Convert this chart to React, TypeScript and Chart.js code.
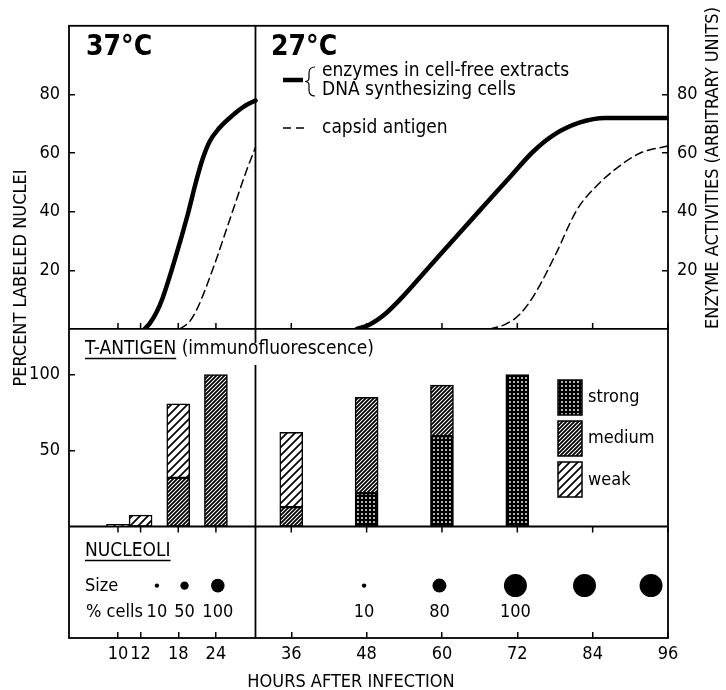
import React, { useEffect, useRef } from "react";
import { Chart, registerables } from "chart.js";

Chart.register(...registerables);

const FONT = "'DejaVu Sans Condensed', 'DejaVu Sans', sans-serif";

// ---- x axis (hours after infection) ----
const X_MIN = 0.6;
const X_MAX = 96;
const xTickPos = [8.4, 12, 18, 24, 36, 48, 60, 72, 84, 96];
const xTickLabels = ["10", "12", "18", "24", "36", "48", "60", "72", "84", "96"];
const dividerHour = 30.3;

// ---- top panel: percent labeled nuclei / enzyme activities ----
const topTicks = [20, 40, 60, 80];
const solid37Hours = [12.66, 13.5, 14.5, 15.5, 17.5, 19.5, 20.8, 21.8, 23, 24.5, 26.7, 28.5, 30.3];
const solid37Vals = [0, 2, 5.5, 10.5, 24, 39, 50, 57.5, 64, 68.5, 73, 76, 78];
const dashed37Hours = [18.24, 19.8, 21.1, 23.55, 26.2, 28.86, 30.3];
const dashed37Vals = [0, 2.5, 7.3, 20.7, 37.3, 54, 62];
const solid27Hours = [46.44, 48.5, 50.9, 53.3, 58.1, 62.05, 66.5, 70.8, 74.5, 78.0, 82.0, 86.0, 96];
const solid27Vals = [0, 1.5, 5, 10, 21.5, 31, 41.6, 51.8, 60.5, 66.5, 70.5, 72, 72];
const dashed27Hours = [67.6, 70.0, 72.4, 74.8, 78.0, 81.5, 84.7, 87.9, 91.5, 96];
const dashed27Vals = [0, 1.5, 5, 12, 25, 40.7, 49, 55, 60, 62.5];

// ---- middle panel: T-antigen ----
const midTicks = [50, 100];
const barHours = [8.4, 12, 18, 24, 36, 48, 60, 72];
const strongVals = [0, 0, 0, 0, 0, 22, 59.5, 100];
const mediumVals = [0, 0, 32, 100, 12.8, 63, 33.5, 0];
const weakVals = [1.5, 7.5, 48.7, 0, 49.2, 0, 0, 0];

// ---- bottom panel: nucleoli ----
const nucHours = [14.6, 19, 24.3, 47.6, 59.6, 71.7, 82.7, 93.3];
const nucRadius = [2.2, 4.2, 6.8, 2.2, 7, 11.5, 11.5, 11.5];
const nucPct = ["10", "50", "100", "10", "80", "100", "", ""];
const NUC_ROW = 0.47;

const pts = (hs: number[], vs: number[]) => hs.map((h, i) => ({ x: h, y: vs[i] }));
const barPts = (vs: number[]) =>
  barHours.map((h, i) => ({ x: h, y: vs[i] })).filter((p) => p.y > 0);

function makeHatch(s: number, lw: number, bg: string, fg: string) {
  const c = document.createElement("canvas");
  c.width = s;
  c.height = s;
  const g = c.getContext("2d")!;
  g.fillStyle = bg;
  g.fillRect(0, 0, s, s);
  g.strokeStyle = fg;
  g.lineWidth = lw;
  g.beginPath();
  g.moveTo(-1, s + 1);
  g.lineTo(s + 1, -1);
  g.moveTo(-2, 2);
  g.lineTo(2, -2);
  g.moveTo(s - 2, s + 2);
  g.lineTo(s + 2, s - 2);
  g.stroke();
  return g.createPattern(c, "repeat")!;
}

function makeDots() {
  const s = 4;
  const c = document.createElement("canvas");
  c.width = s;
  c.height = s;
  const g = c.getContext("2d")!;
  g.fillStyle = "#000";
  g.fillRect(0, 0, s, s);
  g.fillStyle = "#fff";
  g.beginPath();
  g.arc(2, 2, 0.95, 0, Math.PI * 2);
  g.fill();
  return g.createPattern(c, "repeat")!;
}

function yAxis(
  position: "left" | "right",
  stack: string,
  stackWeight: number,
  weight: number,
  max: number,
  ticks: number[] | null,
  width: number
) {
  const show = ticks !== null;
  return {
    type: "linear",
    position,
    stack,
    stackWeight,
    weight,
    min: 0,
    max,
    offset: false,
    border: { display: false },
    grid: {
      display: show,
      drawOnChartArea: false,
      drawTicks: true,
      tickLength: -6,
      color: "#000",
      lineWidth: 1.5,
    },
    afterBuildTicks: (s: any) => {
      if (ticks) s.ticks = ticks.map((v) => ({ value: v }));
    },
    ticks: {
      display: show,
      padding: 15,
      color: "#000",
      font: { family: FONT, size: 18 },
      callback: (v: any) => String(v),
    },
    afterFit: (s: any) => {
      s.width = width;
    },
  };
}

export default function App() {
  const ref = useRef<HTMLCanvasElement>(null);

  useEffect(() => {
    const canvas = ref.current!;
    const patStrong = makeDots();
    const patMedium = makeHatch(4, 1.8, "#fff", "#000");
    const patWeak = makeHatch(8, 1.7, "#fff", "#000");

    const decor = {
      id: "decor",
      afterDraw(chart: any) {
        const ctx: CanvasRenderingContext2D = chart.ctx;
        const ca = chart.chartArea;
        const xs = chart.scales.x;
        const y1 = chart.scales.yTop.bottom;
        const y2 = chart.scales.yMid.bottom;
        const line = (a: number, b: number, c: number, d: number) => {
          ctx.beginPath();
          ctx.moveTo(a, b);
          ctx.lineTo(c, d);
          ctx.stroke();
        };
        ctx.save();
        ctx.strokeStyle = "#000";
        ctx.fillStyle = "#000";
        ctx.lineWidth = 1.8;
        ctx.strokeRect(ca.left, ca.top, ca.right - ca.left, ca.bottom - ca.top);
        line(ca.left, y1, ca.right, y1);
        line(ca.left, y2, ca.right, y2);
        const xd = xs.getPixelForValue(dividerHour);
        line(xd, ca.top, xd, y1 + 14);
        line(xd, y1 + 36, xd, ca.bottom);
        ctx.lineWidth = 1.5;
        xTickPos.forEach((v) => {
          const px = xs.getPixelForValue(v);
          line(px, y1, px, y1 - 6);
          line(px, y2, px, y2 + 6);
        });

        const f = (size: number, bold = false) => `${bold ? "bold " : ""}${size}px ${FONT}`;
        ctx.textBaseline = "alphabetic";
        ctx.textAlign = "left";
        ctx.font = f(28, true);
        ctx.fillText("37°C", 86, 55);
        ctx.fillText("27°C", 271, 55);

        // top legend
        ctx.lineWidth = 4.5;
        line(283, 80, 303, 80);
        ctx.lineWidth = 1.5;
        ctx.setLineDash([8, 5]);
        line(283, 128, 305, 128);
        ctx.setLineDash([]);
        ctx.lineWidth = 1.2;
        ctx.beginPath();
        ctx.moveTo(315, 67);
        ctx.quadraticCurveTo(309, 67, 309, 73);
        ctx.lineTo(309, 78);
        ctx.quadraticCurveTo(309, 81.5, 305, 81.5);
        ctx.quadraticCurveTo(309, 81.5, 309, 85);
        ctx.lineTo(309, 90);
        ctx.quadraticCurveTo(309, 96, 315, 96);
        ctx.stroke();
        ctx.font = f(19);
        ctx.fillText("enzymes in cell-free extracts", 322, 76);
        ctx.fillText("DNA synthesizing cells", 322, 95);
        ctx.fillText("capsid antigen", 322, 133);

        // T-antigen title
        ctx.font = f(19);
        ctx.fillText("T-ANTIGEN (immunofluorescence)", 85, 354);
        const tw = ctx.measureText("T-ANTIGEN").width;
        ctx.lineWidth = 1.5;
        line(85, 358.5, 85 + tw, 358.5);

        // bar legend
        const boxes: [any, string, number, number][] = [
          [patStrong, "strong", 380, 402],
          [patMedium, "medium", 421, 443],
          [patWeak, "weak", 462, 485],
        ];
        ctx.font = f(18);
        boxes.forEach(([p, label, top, base]) => {
          ctx.fillStyle = p;
          ctx.fillRect(558, top, 24, 35);
          ctx.strokeRect(558, top, 24, 35);
          ctx.fillStyle = "#000";
          ctx.fillText(label, 588, base);
        });

        // nucleoli texts
        ctx.font = f(19);
        ctx.fillText("NUCLEOLI", 85, 556);
        const nw = ctx.measureText("NUCLEOLI").width;
        line(85, 560.5, 85 + nw, 560.5);
        ctx.font = f(18);
        ctx.fillText("Size", 85, 591);
        ctx.fillText("% cells", 86, 617);
        ctx.textAlign = "center";
        nucHours.forEach((h, i) => {
          if (nucPct[i]) ctx.fillText(nucPct[i], xs.getPixelForValue(h), 617);
        });

        // axis titles
        ctx.fillText("HOURS AFTER INFECTION", 351, 687);
        ctx.textBaseline = "middle";
        ctx.save();
        ctx.translate(21, 278);
        ctx.rotate(-Math.PI / 2);
        ctx.fillText("PERCENT LABELED NUCLEI", 0, 0);
        ctx.restore();
        ctx.save();
        ctx.translate(713, 168);
        ctx.rotate(-Math.PI / 2);
        ctx.fillText("ENZYME ACTIVITIES (ARBITRARY UNITS)", 0, 0);
        ctx.restore();
        ctx.restore();
      },
    };

    const lineDs = (hs: number[], vs: number[], dashed: boolean) => ({
      type: "line",
      data: pts(hs, vs),
      xAxisID: "x",
      yAxisID: "yTop",
      borderColor: "#000",
      borderWidth: dashed ? 1.5 : 4.5,
      borderDash: dashed ? [8, 5] : [],
      borderCapStyle: "round",
      pointRadius: 0,
      fill: false,
      cubicInterpolationMode: "monotone",
    });
    const barDs = (vs: number[], pat: any) => ({
      type: "bar",
      data: barPts(vs),
      xAxisID: "x",
      yAxisID: "yMid",
      stack: "T",
      backgroundColor: pat,
      borderColor: "#000",
      borderWidth: 1.5,
      borderSkipped: false,
      barThickness: 23,
    });

    const chart = new Chart(canvas, {
      type: "line",
      data: {
        datasets: [
          lineDs(solid37Hours, solid37Vals, false),
          lineDs(dashed37Hours, dashed37Vals, true),
          lineDs(solid27Hours, solid27Vals, false),
          lineDs(dashed27Hours, dashed27Vals, true),
          barDs(strongVals, patStrong),
          barDs(mediumVals, patMedium),
          barDs(weakVals, patWeak),
          {
            type: "bubble",
            data: nucHours.map((h, i) => ({ x: h, y: NUC_ROW, r: nucRadius[i] })),
            xAxisID: "x",
            yAxisID: "yBot",
            backgroundColor: "#000",
            borderColor: "#000",
            borderWidth: 0,
          },
        ] as any,
      },
      options: {
        responsive: true,
        maintainAspectRatio: false,
        animation: false,
        events: [],
        layout: { padding: { left: 0, right: 0, top: 12, bottom: 0 } },
        plugins: { legend: { display: false }, tooltip: { enabled: false } },
        scales: {
          x: {
            type: "linear",
            position: "bottom",
            min: X_MIN,
            max: X_MAX,
            offset: false,
            border: { display: false },
            grid: {
              display: true,
              drawOnChartArea: false,
              drawTicks: true,
              tickLength: -6,
              color: "#000",
              lineWidth: 1.5,
              offset: false,
            },
            afterBuildTicks: (s: any) => {
              s.ticks = xTickPos.map((v) => ({ value: v }));
            },
            ticks: {
              autoSkip: false,
              maxRotation: 0,
              minRotation: 0,
              padding: 12,
              color: "#000",
              font: { family: FONT, size: 18 },
              callback: (_v: any, i: number) => xTickLabels[i],
            },
            afterFit: (s: any) => {
              s.height = 52;
            },
          },
          yTop: yAxis("left", "L", 310, 3, 103.5, topTicks, 69),
          yMid: yAxis("left", "L", 202, 2, 130, midTicks, 69),
          yBot: yAxis("left", "L", 114, 1, 1, null, 69),
          yTopR: yAxis("right", "R", 310, 1, 103.5, topTicks, 58),
          yMidR: yAxis("right", "R", 202, 2, 130, null, 58),
          yBotR: yAxis("right", "R", 114, 3, 1, null, 58),
        } as any,
      },
      plugins: [decor],
    } as any);

    return () => chart.destroy();
  }, []);

  return (
    <div style={{ position: "fixed", left: 0, top: 0, width: 726, height: 690, background: "#fff" }}>
      <canvas ref={ref} />
    </div>
  );
}
